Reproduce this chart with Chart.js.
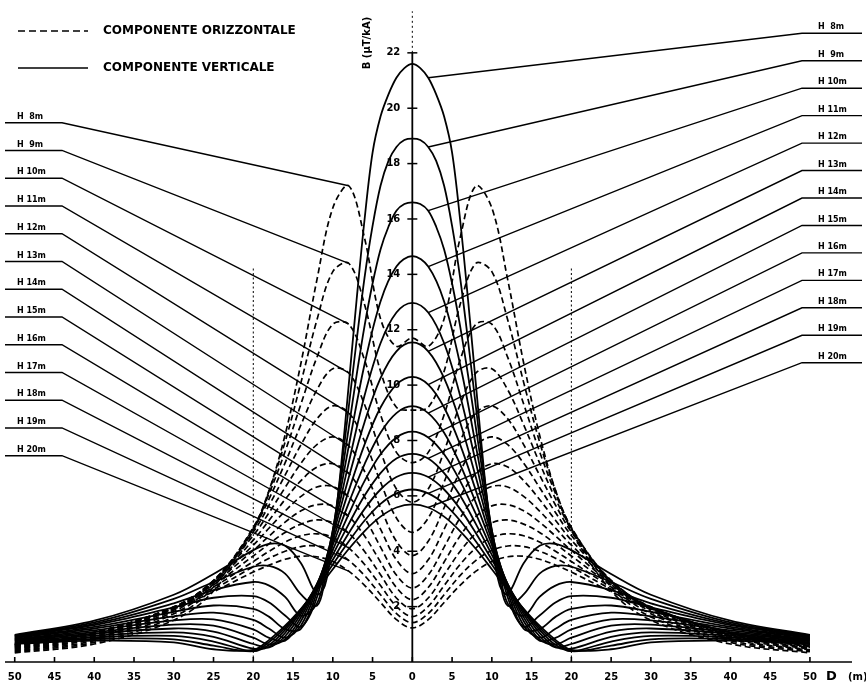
<!DOCTYPE html>
<html><head><meta charset="utf-8">
<script src="https://cdn.jsdelivr.net/npm/chart.js@4"></script>
<style>html,body{margin:0;padding:0;background:#fff;}canvas{display:block;}</style>
</head><body>
<canvas id="c" width="866" height="690"></canvas>
<script>
// lateral distances from the line axis (m) at which values were read (one side; the chart is symmetric)
const distances = [0, 2, 4, 6, 8, 10, 12, 14, 16, 18, 20, 25, 30, 40, 50];
const distancesFine = [0, 1, 2, 3, 4, 5, 6, 7, 8, 9, 10, 11, 12, 14, 16, 18, 20, 25, 30, 40, 50];
const heights = [8, 9, 10, 11, 12, 13, 14, 15, 16, 17, 18, 19, 20];
const heightLabels = ['H  8m','H  9m','H 10m','H 11m','H 12m','H 13m','H 14m','H 15m','H 16m','H 17m','H 18m','H 19m','H 20m'];

// horizontal component B (uT/kA), dashed curves (at "distances")
const horiz8  = [11.7, 11.4, 12.4, 15.3, 17.2, 16.4, 13.8, 10.8, 8.2, 6.2, 4.75, 2.57, 1.51, 0.65, 0.33];
const horiz9  = [9.1, 9.2, 10.5, 12.9, 14.4, 14.1, 12.35, 10.1, 7.95, 6.2, 4.84, 2.71, 1.63, 0.71, 0.37];
const horiz10 = [7.2, 7.57, 8.93, 10.9, 12.2, 12.2, 11.0, 9.32, 7.6, 6.09, 4.86, 2.82, 1.74, 0.77, 0.40];
const horiz11 = [5.77, 6.25, 7.61, 9.29, 10.44, 10.59, 9.83, 8.57, 7.19, 5.9, 4.81, 2.9, 1.82, 0.83, 0.44];
const horiz12 = [4.68, 5.2, 6.5, 7.97, 9.0, 9.25, 8.78, 7.85, 6.75, 5.67, 4.7, 2.94, 1.88, 0.87, 0.47];
const horiz13 = [3.84, 4.36, 5.57, 6.88, 7.81, 8.13, 7.85, 7.18, 6.3, 5.4, 4.57, 2.95, 1.93, 0.92, 0.5];
const horiz14 = [3.19, 3.69, 4.8, 5.96, 6.81, 7.16, 7.04, 6.55, 5.87, 5.12, 4.4, 2.93, 1.96, 0.96, 0.52];
const horiz15 = [2.67, 3.14, 4.15, 5.2, 5.97, 6.34, 6.32, 5.98, 5.45, 4.84, 4.22, 2.9, 1.98, 0.99, 0.55];
const horiz16 = [2.25, 2.69, 3.61, 4.55, 5.26, 5.64, 5.68, 5.46, 5.05, 4.55, 4.03, 2.85, 1.99, 1.02, 0.57];
const horiz17 = [1.92, 2.31, 3.15, 3.99, 4.65, 5.03, 5.13, 4.98, 4.68, 4.27, 3.83, 2.79, 1.99, 1.04, 0.59];
const horiz18 = [1.64, 2.01, 2.76, 3.52, 4.12, 4.5, 4.63, 4.56, 4.33, 4.0, 3.63, 2.71, 1.97, 1.06, 0.61];
const horiz19 = [1.42, 1.75, 2.43, 3.12, 3.67, 4.03, 4.19, 4.17, 4.0, 3.75, 3.44, 2.63, 1.95, 1.07, 0.62];
const horiz20 = [1.23, 1.53, 2.15, 2.77, 3.28, 3.63, 3.8, 3.82, 3.71, 3.5, 3.25, 2.54, 1.92, 1.08, 0.64];

// vertical component B (uT/kA), solid curves (H 8-10 at "distancesFine", others at "distances")
const vert8  = [21.6, 21.45, 21.1, 20.5, 19.7, 18.4, 16.0, 13.1, 10.0, 6.96, 4.4, 2.75, 2.45, 3.57, 4.2, 4.27, 4.04, 3.18, 2.43, 1.49, 0.98];
const vert9  = [18.9, 18.85, 18.6, 18.1, 17.2, 15.75, 13.9, 11.62, 9.2, 6.8, 4.65, 2.97, 2.03, 2.44, 3.19, 3.47, 3.44, 2.89, 2.28, 1.43, 0.96];
const vert10 = [16.6, 16.54, 16.3, 15.72, 14.9, 13.67, 12.15, 10.37, 8.45, 6.54, 4.76, 3.23, 2.11, 1.67, 2.35, 2.76, 2.89, 2.6, 2.12, 1.38, 0.94];
const vert11 = [14.66, 14.28, 13.02, 10.76, 7.79, 4.75, 2.33, 1.27, 1.68, 2.15, 2.38, 2.32, 1.97, 1.33, 0.92];
const vert12 = [12.97, 12.62, 11.51, 9.63, 7.19, 4.67, 2.53, 1.2, 1.19, 1.63, 1.92, 2.04, 1.81, 1.27, 0.89];
const vert13 = [11.54, 11.22, 10.25, 8.67, 6.66, 4.55, 2.67, 1.32, 0.88, 1.2, 1.52, 1.78, 1.65, 1.21, 0.86];
const vert14 = [10.3, 10.02, 9.19, 7.86, 6.18, 4.39, 2.76, 1.48, 0.77, 0.87, 1.18, 1.54, 1.5, 1.14, 0.83];
const vert15 = [9.24, 8.99, 8.28, 7.15, 5.74, 4.23, 2.8, 1.62, 0.82, 0.64, 0.88, 1.31, 1.35, 1.08, 0.81];
const vert16 = [8.32, 8.11, 7.5, 6.54, 5.34, 4.05, 2.81, 1.74, 0.93, 0.53, 0.65, 1.1, 1.21, 1.02, 0.78];
const vert17 = [7.52, 7.35, 6.82, 6.01, 4.98, 3.87, 2.79, 1.83, 1.05, 0.55, 0.48, 0.91, 1.07, 0.95, 0.75];
const vert18 = [6.83, 6.68, 6.23, 5.53, 4.65, 3.69, 2.74, 1.88, 1.16, 0.62, 0.39, 0.74, 0.94, 0.89, 0.71];
const vert19 = [6.23, 6.09, 5.71, 5.11, 4.35, 3.52, 2.68, 1.91, 1.24, 0.72, 0.39, 0.59, 0.82, 0.83, 0.68];
const vert20 = [5.69, 5.58, 5.25, 4.73, 4.08, 3.35, 2.61, 1.92, 1.31, 0.80, 0.44, 0.46, 0.71, 0.77, 0.65];

const horizontalSeries = [horiz8, horiz9, horiz10, horiz11, horiz12, horiz13, horiz14, horiz15, horiz16, horiz17, horiz18, horiz19, horiz20];
const verticalSeries = [vert8, vert9, vert10, vert11, vert12, vert13, vert14, vert15, vert16, vert17, vert18, vert19, vert20];

const xTickValues = [-50,-45,-40,-35,-30,-25,-20,-15,-10,-5,0,5,10,15,20,25,30,35,40,45,50];
const xTickLabels = ['50','45','40','35','30','25','20','15','10','5','0','5','10','15','20','25','30','35','40','45','50'];
const yTickValues = [2,4,6,8,10,12,14,16,18,20,22];
const limitDistance = 20;   // dotted reference lines at +/- this distance
const limitTop = 14.3;

function distancesFor(vals) { return vals.length === distancesFine.length ? distancesFine : distances; }

// build symmetric point lists (values read on one side, mirrored)
function mirrored(vals) {
  const d = distancesFor(vals);
  const pts = [];
  for (let i = d.length - 1; i > 0; i--) pts.push({x: -d[i], y: vals[i]});
  for (let i = 0; i < d.length; i++) pts.push({x: d[i], y: vals[i]});
  return pts;
}
function valueAt(vals, dist) { return vals[distancesFor(vals).indexOf(dist)]; }

const datasets = [];
heights.forEach((h, i) => {
  datasets.push({label: 'Orizzontale ' + heightLabels[i], data: mirrored(horizontalSeries[i]),
    borderColor: '#000', borderWidth: 1.7, borderDash: [6, 3.5], pointRadius: 0, fill: false,
    tension: 0.35});
  datasets.push({label: 'Verticale ' + heightLabels[i], data: mirrored(verticalSeries[i]),
    borderColor: '#000', borderWidth: 1.8, pointRadius: 0, fill: false,
    tension: 0.35});
});

const FONT = '"DejaVu Sans", sans-serif';

const decor = {
  id: 'decor',
  afterDraw(chart) {
    const {ctx, scales: {x, y}} = chart;
    ctx.save();
    ctx.strokeStyle = '#000'; ctx.fillStyle = '#000';
    const y0 = y.getPixelForValue(0);
    const x0 = x.getPixelForValue(0);
    // x axis
    ctx.lineWidth = 1.6;
    ctx.beginPath(); ctx.moveTo(5, y0); ctx.lineTo(852, y0); ctx.stroke();
    xTickValues.forEach(v => {
      const px = x.getPixelForValue(v);
      ctx.beginPath(); ctx.moveTo(px, y0); ctx.lineTo(px, y0 - 5); ctx.stroke();
    });
    ctx.font = 'bold 10px ' + FONT; ctx.textAlign = 'center'; ctx.textBaseline = 'middle';
    xTickValues.forEach((v, i) => ctx.fillText(xTickLabels[i], x.getPixelForValue(v), 677));
    ctx.textAlign = 'left';
    ctx.font = 'bold 13px ' + FONT; ctx.fillText('D', 826, 677);
    ctx.font = 'bold 10px ' + FONT; ctx.fillText('(m)', 848, 677);
    // y axis
    ctx.lineWidth = 1.8;
    ctx.beginPath(); ctx.moveTo(x0, y0); ctx.lineTo(x0, y.getPixelForValue(22)); ctx.stroke();
    ctx.lineWidth = 1; ctx.setLineDash([2, 3]);
    ctx.beginPath(); ctx.moveTo(x0, y.getPixelForValue(22)); ctx.lineTo(x0, y.getPixelForValue(23.5)); ctx.stroke();
    ctx.setLineDash([]);
    ctx.lineWidth = 1.5;
    ctx.font = 'bold 10px ' + FONT; ctx.textAlign = 'right';
    yTickValues.forEach(v => {
      const py = y.getPixelForValue(v);
      ctx.beginPath(); ctx.moveTo(x0 - 5, py); ctx.lineTo(x0 + 5, py); ctx.stroke();
      ctx.fillText(String(v), x0 - 12, py);
    });
    // y title
    ctx.save();
    ctx.translate(367, 43); ctx.rotate(-Math.PI / 2);
    ctx.textAlign = 'center'; ctx.font = 'bold 10px ' + FONT;
    ctx.fillText('B (\u00B5T/kA)', 0, 0);
    ctx.restore();
    // dotted reference lines
    ctx.lineWidth = 1; ctx.setLineDash([2, 2.5]);
    [-limitDistance, limitDistance].forEach(d => {
      const px = x.getPixelForValue(d);
      ctx.beginPath(); ctx.moveTo(px, y0); ctx.lineTo(px, y.getPixelForValue(limitTop)); ctx.stroke();
    });
    ctx.setLineDash([]);
    // legend
    ctx.lineWidth = 1.7;
    ctx.setLineDash([7, 4]);
    ctx.beginPath(); ctx.moveTo(18, 31); ctx.lineTo(88, 31); ctx.stroke();
    ctx.setLineDash([]);
    ctx.beginPath(); ctx.moveTo(18, 68); ctx.lineTo(88, 68); ctx.stroke();
    ctx.font = 'bold 12px ' + FONT; ctx.textAlign = 'left';
    ctx.fillText('COMPONENTE ORIZZONTALE', 103, 31);
    ctx.fillText('COMPONENTE VERTICALE', 103, 68);
    // height labels with leader lines
    ctx.font = 'bold 8px ' + FONT; ctx.lineWidth = 1.4;
    heights.forEach((h, i) => {
      // left: to the horizontal component near its maximum
      const ly = 122.7 + 27.75 * i;
      const tx = x.getPixelForValue(-8), ty = y.getPixelForValue(valueAt(horizontalSeries[i], 8));
      ctx.beginPath(); ctx.moveTo(5, ly); ctx.lineTo(62, ly); ctx.lineTo(tx, ty); ctx.stroke();
      ctx.fillText(heightLabels[i], 17, ly - 6);
      // right: to the vertical component near the axis
      const ry = 33.3 + 27.45 * i;
      const ux = x.getPixelForValue(2), uy = y.getPixelForValue(valueAt(verticalSeries[i], 2));
      ctx.beginPath(); ctx.moveTo(862, ry); ctx.lineTo(802, ry); ctx.lineTo(ux, uy); ctx.stroke();
      ctx.fillText(heightLabels[i], 818, ry - 6);
    });
    ctx.restore();
  }
};

new Chart(document.getElementById('c'), {
  type: 'line',
  data: {datasets},
  options: {
    responsive: false,
    animation: false,
    layout: {padding: {left: 2, right: 2, top: 3, bottom: 28}},
    plugins: {legend: {display: false}, tooltip: {enabled: false}},
    scales: {
      x: {type: 'linear', min: -51.6, max: 56.8, display: false},
      y: {type: 'linear', min: 0, max: 23.8, display: false}
    }
  },
  plugins: [decor]
});
</script>
</body></html>
